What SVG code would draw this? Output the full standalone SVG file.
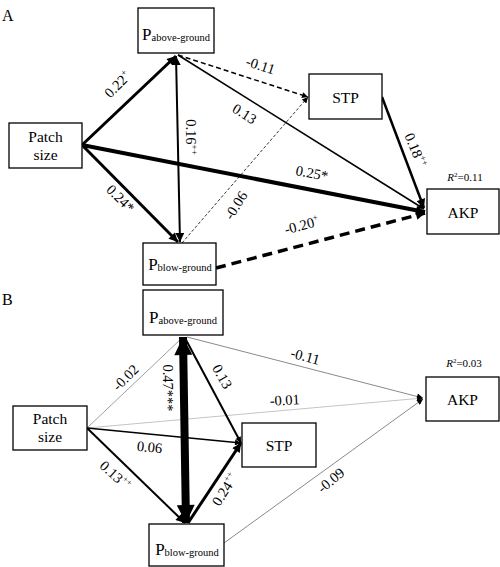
<svg xmlns="http://www.w3.org/2000/svg" width="500" height="567" viewBox="0 0 500 567" font-family="'Liberation Serif', 'DejaVu Serif', 'Times New Roman', serif">
<style>
text{font-family:'Liberation Serif','DejaVu Serif','Times New Roman',serif;fill:#000}
.box{fill:#fff;stroke:#000;stroke-width:1.3}
.nm{font-size:15.5px;text-anchor:middle}
.lb{font-size:14.5px;text-anchor:middle}
.sup{font-size:9px}
.r2{font-size:11px;text-anchor:middle}
.e{fill:none;stroke:#000}
.e.g1{stroke:#a0a0a0}
.e.g2{stroke:#8a8a8a}
.e.g3{stroke:#c4c4c4}
</style>
<defs>
<marker id="aS" viewBox="0 0 10 10" refX="10" refY="5" markerUnits="userSpaceOnUse" markerWidth="8" markerHeight="6" orient="auto-start-reverse"><path d="M0,0L10,5L0,10z" fill="#000"/></marker>
<marker id="aM" viewBox="0 0 10 10" refX="10" refY="5" markerUnits="userSpaceOnUse" markerWidth="11" markerHeight="9" orient="auto-start-reverse"><path d="M0,0L10,5L0,10z" fill="#000"/></marker>
<marker id="aL" viewBox="0 0 10 10" refX="10" refY="5" markerUnits="userSpaceOnUse" markerWidth="22" markerHeight="18" orient="auto-start-reverse"><path d="M0,0L10,5L0,10z" fill="#000"/></marker>
</defs>

<text x="2" y="21" font-size="16">A</text>
<text x="2" y="305" font-size="16">B</text>

<g id="connectors">
<line class="e" x1="82" y1="145" x2="176" y2="56" stroke-width="3" marker-end="url(#aM)"/>
<line class="e" x1="82" y1="145" x2="178" y2="242" stroke-width="3" marker-end="url(#aM)"/>
<line class="e" x1="176" y1="56" x2="180" y2="242" stroke-width="2" marker-start="url(#aM)" marker-end="url(#aM)"/>
<line class="e" x1="178" y1="55" x2="308" y2="97" stroke-width="1.5" stroke-dasharray="5,3" marker-end="url(#aS)"/>
<line class="e" x1="178" y1="55" x2="424" y2="209" stroke-width="1.6" marker-end="url(#aS)"/>
<line class="e" x1="82" y1="145" x2="425" y2="212" stroke-width="4" marker-end="url(#aM)"/>
<line class="e" x1="182" y1="243" x2="308" y2="97" stroke-width="0.8" stroke-dasharray="3,2" marker-end="url(#aS)"/>
<line class="e" x1="382" y1="97" x2="424" y2="208" stroke-width="2.5" marker-end="url(#aM)"/>
<line class="e" x1="216" y1="268" x2="425" y2="213" stroke-width="3.5" stroke-dasharray="10,6" marker-end="url(#aM)"/>
<line class="e g1" x1="87" y1="428" x2="183" y2="337" stroke-width="1"/>
<line class="e g2" x1="187" y1="337" x2="423" y2="398" stroke-width="1" marker-end="url(#aS)"/>
<line class="e g3" x1="87" y1="428" x2="423" y2="398" stroke-width="1" marker-end="url(#aS)"/>
<line class="e" x1="87" y1="428" x2="241" y2="443" stroke-width="1.5" marker-end="url(#aS)"/>
<line class="e" x1="185" y1="338" x2="241" y2="443" stroke-width="2" marker-end="url(#aS)"/>
<line class="e" x1="87" y1="428" x2="185" y2="523" stroke-width="2" marker-end="url(#aM)"/>
<line class="e" x1="188" y1="523" x2="241" y2="443" stroke-width="3" marker-end="url(#aM)"/>
<line class="e g2" x1="224" y1="543" x2="423" y2="399" stroke-width="1" marker-end="url(#aS)"/>
<line class="e" x1="183" y1="337" x2="186" y2="523" stroke-width="8" marker-start="url(#aL)" marker-end="url(#aL)"/>
</g>

<g id="labels">
<text class="lb" transform="translate(121,88) rotate(-45)">0.22<tspan class="sup" dy="-6">+</tspan></text>
<text class="lb" transform="translate(117,202) rotate(45)">0.24*</text>
<text class="lb" transform="translate(186,137) rotate(90)">0.16<tspan class="sup" dy="-6">++</tspan></text>
<text class="lb" transform="translate(259,70) rotate(18)">-0.11</text>
<text class="lb" transform="translate(242,118) rotate(32)">0.13</text>
<text class="lb" transform="translate(240,208) rotate(-58)">-0.06</text>
<text class="lb" transform="translate(311,178) rotate(11)">0.25*</text>
<text class="lb" transform="translate(303,230) rotate(-15)">-0.20<tspan class="sup" dy="-6">+</tspan></text>
<text class="lb" transform="translate(411,152) rotate(68)">0.18<tspan class="sup" dy="-6">++</tspan></text>

<text class="lb" transform="translate(129,381) rotate(-45)">-0.02</text>
<text class="lb" transform="translate(163,388) rotate(90)">0.47***</text>
<text class="lb" transform="translate(218,379) rotate(60)">0.13</text>
<text class="lb" transform="translate(149,452) rotate(6)">0.06</text>
<text class="lb" transform="translate(112,479) rotate(42)">0.13<tspan class="sup" dy="-6">++</tspan></text>
<text class="lb" transform="translate(229,492) rotate(-58)">0.24<tspan class="sup" dy="-6">++</tspan></text>
<text class="lb" transform="translate(304,361) rotate(15)">-0.11</text>
<text class="lb" transform="translate(285,405) rotate(-3)">-0.01</text>
<text class="lb" transform="translate(334,484) rotate(-40)">-0.09</text>
</g>

<g id="A-above">
<rect class="box" x="138" y="8" width="76" height="45"/>
<text x="176" y="40" text-anchor="middle"><tspan font-size="17">P</tspan><tspan font-size="10.5" dy="1">above-ground</tspan></text>
</g>
<g id="A-patch">
<rect class="box" x="9" y="123" width="73" height="45"/>
<text class="nm" x="45.5" y="142">Patch</text>
<text class="nm" x="45.5" y="160">size</text>
</g>
<g id="A-below">
<rect class="box" x="143" y="243" width="73" height="42"/>
<text x="180" y="270" text-anchor="middle"><tspan font-size="17">P</tspan><tspan font-size="10.5" dy="1">blow-ground</tspan></text>
</g>
<g id="A-stp">
<rect class="box" x="309" y="74" width="73" height="45"/>
<text class="nm" x="345.5" y="103">STP</text>
</g>
<g id="A-akp">
<rect class="box" x="427" y="189" width="72" height="45"/>
<text class="nm" x="463" y="218">AKP</text>
<text class="r2" x="465" y="181"><tspan font-style="italic">R</tspan><tspan font-size="7" dy="-4">2</tspan><tspan dy="4">=0.11</tspan></text>
</g>

<g id="B-above">
<rect class="box" x="143" y="290" width="80" height="45"/>
<text x="183" y="323" text-anchor="middle"><tspan font-size="17">P</tspan><tspan font-size="10.5" dy="1">above-ground</tspan></text>
</g>
<g id="B-patch">
<rect class="box" x="13" y="406" width="74" height="44"/>
<text class="nm" x="50" y="424">Patch</text>
<text class="nm" x="50" y="442">size</text>
</g>
<g id="B-stp">
<rect class="box" x="242" y="423" width="74" height="44"/>
<text class="nm" x="279" y="451">STP</text>
</g>
<g id="B-akp">
<rect class="box" x="426" y="377" width="73" height="44"/>
<text class="nm" x="462.5" y="405">AKP</text>
<text class="r2" x="464" y="367"><tspan font-style="italic">R</tspan><tspan font-size="7" dy="-4">2</tspan><tspan dy="4">=0.03</tspan></text>
</g>
<g id="B-below">
<rect class="box" x="149" y="524" width="75" height="42"/>
<text x="187" y="555" text-anchor="middle"><tspan font-size="17">P</tspan><tspan font-size="10.5" dy="1">blow-ground</tspan></text>
</g>
</svg>
